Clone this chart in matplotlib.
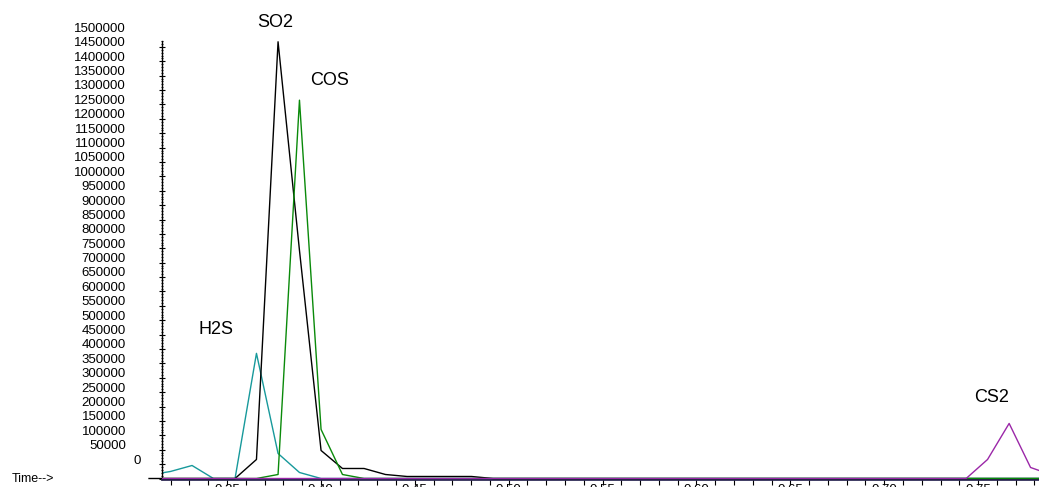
import matplotlib
matplotlib.use("Agg")
import matplotlib.pyplot as plt
from matplotlib.ticker import MultipleLocator, FormatStrFormatter
from matplotlib.transforms import ScaledTranslation

plt.rcParams['font.family'] = ['Liberation Sans', 'DejaVu Sans']

# scan times (min)
scan_times = [0.3085, 0.3199, 0.3314, 0.3428, 0.3543, 0.3657, 0.3772, 0.3886,
              0.4001, 0.4115, 0.4230, 0.4344, 0.4459, 0.4573, 0.4688, 0.4802,
              0.4917, 0.5031, 0.5146, 0.5260, 0.5375, 0.5489, 0.5604, 0.5718,
              0.5833, 0.5947, 0.6062, 0.6176, 0.6291, 0.6405, 0.6520, 0.6634,
              0.6749, 0.6863, 0.6978, 0.7092, 0.7207, 0.7321, 0.7436, 0.7550,
              0.7665, 0.7779, 0.7894]

# abundance per compound
h2s = [12000, 24400, 45200, 0, 0, 435000, 87000, 20900,
       0, 0, 0, 0, 0, 0, 0, 0,
       0, 0, 0, 0, 0, 0, 0, 0,
       0, 0, 0, 0, 0, 0, 0, 0,
       0, 0, 0, 0, 0, 0, 0, 0,
       0, 0, 0]
so2 = [0, 0, 0, 0, 0, 66100, 1518000, 793000,
       97400, 34800, 34800, 13900, 7000, 7000, 7000, 7000,
       0, 0, 0, 0, 0, 0, 0, 0,
       0, 0, 0, 0, 0, 0, 0, 0,
       0, 0, 0, 0, 0, 0, 0, 0,
       0, 0, 0]
cos = [0, 0, 0, 0, 0, 0, 13900, 1315000,
       170500, 13900, 0, 0, 0, 0, 0, 0,
       0, 0, 0, 0, 0, 0, 0, 0,
       0, 0, 0, 0, 0, 0, 0, 0,
       0, 0, 0, 0, 0, 0, 0, 0,
       0, 0, 0]
cs2 = [0, 0, 0, 0, 0, 0, 0, 0,
       0, 0, 0, 0, 0, 0, 0, 0,
       0, 0, 0, 0, 0, 0, 0, 0,
       0, 0, 0, 0, 0, 0, 0, 0,
       0, 0, 0, 0, 0, 0, 0, 66100,
       191400, 38300, 12000]

# peak names and where they sit (time, abundance)
peak_names = ["SO2", "COS", "H2S", "CS2"]
peak_pos = [(0.3756, 1584500), (0.4048, 1382700), (0.3441, 516600), (0.7573, 280000)]

ytick_values = list(range(0, 1500001, 50000))

fig = plt.figure(figsize=(10.39, 4.87), dpi=100)
ax = fig.add_axes([162 / 1039, 8.5 / 487, 877 / 1039, 437.3 / 487])

ax.plot(scan_times, h2s, color="#17999b", lw=1, zorder=2)
ax.plot(scan_times, so2, color="black", lw=1, zorder=3, clip_on=False)
ax.plot(scan_times, cos, color="#0a8a0a", lw=1, zorder=4)
ax.plot(scan_times, cs2, color="#9b27a8", lw=1, zorder=5)

ax.set_xlim(0.3154, 0.7824)
ax.set_ylim(0, 1520000)

ax.spines['top'].set_visible(False)
ax.spines['right'].set_visible(False)
ax.spines['bottom'].set_color('#2e2a55')
ax.spines['bottom'].set_linewidth(2)
ax.spines['left'].set_linewidth(1)

ax.xaxis.set_major_locator(MultipleLocator(0.05))
ax.xaxis.set_minor_locator(MultipleLocator(0.01))
ax.xaxis.set_major_formatter(FormatStrFormatter('%.2f'))
ax.tick_params(axis='x', which='both', direction='out', length=4, width=0.8, pad=0, labelsize=9.5)

ax.yaxis.set_major_locator(MultipleLocator(50000))
ax.yaxis.set_minor_locator(MultipleLocator(10000))
ax.tick_params(axis='y', which='major', direction='inout', length=4, width=0.8, labelleft=False)
ax.tick_params(axis='y', which='minor', direction='inout', length=2, width=0.6)

# y labels sit a bit above their ticks, like in the instrument printout
for v in ytick_values:
    dx = -0.36 if v > 0 else -0.21
    tr = ax.get_yaxis_transform() + ScaledTranslation(dx, 0.18, fig.dpi_scale_trans)
    ax.text(0, v, str(v), transform=tr, ha='right', va='center', fontsize=9.5)

for name, (t, v) in zip(peak_names, peak_pos):
    ax.text(t, v, name, ha='center', va='center', fontsize=13)

fig.text(12 / 1039, 8 / 487, "Time-->", ha='left', va='center', fontsize=9)

fig.savefig("out.png", dpi=100)
